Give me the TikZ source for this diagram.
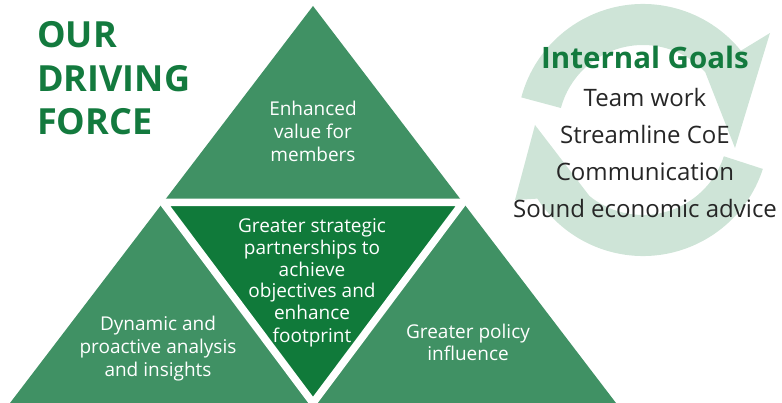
\documentclass[tikz,border=0pt]{standalone}
\usepackage{fontspec}
\setmainfont{Open Sans}
\usetikzlibrary{calc}
\definecolor{lightg}{RGB}{64,145,100}
\definecolor{darkg}{RGB}{16,122,58}
\definecolor{titleg}{RGB}{19,122,62}
\definecolor{ringg}{RGB}{206,228,215}
\definecolor{txtgray}{RGB}{38,38,38}
\begin{document}
\begin{tikzpicture}[x=1pt,y=-1pt,
  tritext/.style={text=white, align=center, inner sep=0pt, anchor=base, font=\fontsize{19}{23}\selectfont},
  ringarrow/.style={fill=ringg}]
\useasboundingbox (0,0) rectangle (782,403);
% ring arrows
\coordinate (c) at (643,130);
\fill[ringarrow] ($(c)+(195:126)$) arc[start angle=195,end angle=321,radius=126]
  -- (770,33) -- (735,148) -- ($(c)+(317:85)$)
  arc[start angle=317,end angle=195,radius=85] -- cycle;
\fill[ringarrow] ($(c)+(18:126)$) arc[start angle=18,end angle=147,radius=126]
  -- (515,200) -- (535,125) -- ($(c)+(129:85)$)
  arc[start angle=129,end angle=18,radius=85] -- cycle;
% triangles
\coordinate (apex) at (313,6);
\coordinate (bl) at (10,403);
\coordinate (br) at (616,403);
\coordinate (ml) at (163,202.5);
\coordinate (mr) at (463,202.5);
\coordinate (mb) at (313,403);
\fill[lightg] (apex) -- (bl) -- (br) -- cycle;
\fill[darkg] (ml) -- (mr) -- (mb) -- cycle;
\draw[white, line width=7.5, line join=miter] (ml) -- (mr) -- (mb) -- cycle;
% texts (base anchor = baseline of the last line)
\node[tritext] (top) at (313,162) {Enhanced\\value for\\members};
\node[tritext, font=\fontsize{19}{22}\selectfont] (mid) at (312,342) {Greater strategic\\partnerships to\\achieve\\objectives and\\enhance\\footprint};
\node[tritext] (left) at (158,377) {Dynamic and\\proactive analysis\\and insights};
\node[tritext] (right) at (468,361) {Greater policy\\influence};
\node[text=titleg, align=left, inner sep=0pt, anchor=base west, font=\fontsize{36}{43.5}\selectfont\bfseries] (title) at (37,135) {OUR\\DRIVING\\FORCE};
\node[text=titleg, inner sep=0pt, anchor=base, font=\fontsize{29.5}{35}\selectfont\bfseries] (goals) at (645,69) {Internal Goals};
\node[text=txtgray, align=center, inner sep=0pt, anchor=base, font=\fontsize{24}{37}\selectfont] (list) at (645,218) {Team work\\Streamline CoE\\Communication\\Sound economic advice};
\end{tikzpicture}
\end{document}
